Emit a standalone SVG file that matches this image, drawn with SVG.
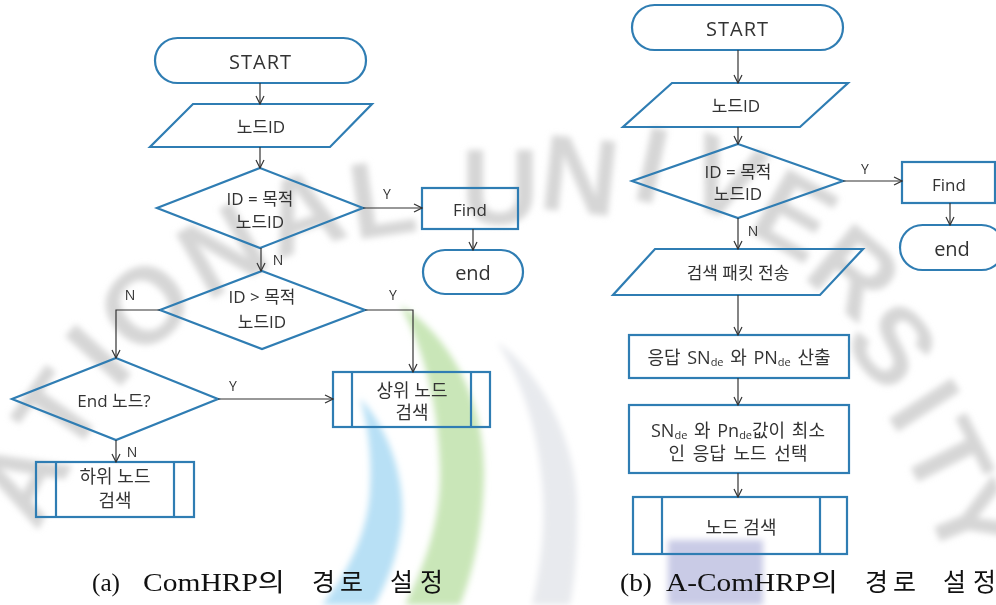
<svg xmlns="http://www.w3.org/2000/svg" width="996" height="605" viewBox="0 0 996 605">
<style>
  .nd { fill: none; stroke: #2f7db3; stroke-width: 2.2; }
  .t { font-family: "Open Sans", "Noto Sans CJK KR", sans-serif; font-size: 17px; fill: #333; text-anchor: middle; dominant-baseline: central; }
  .big { font-size: 20px; }
  .pb { font-size: 18px; }
  .lbl { font-family: "Open Sans", "Noto Sans CJK KR", sans-serif; font-size: 14px; fill: #333; text-anchor: middle; dominant-baseline: central; }
  .sub { font-size: 11px; }
  .conn { fill: none; stroke: #333; stroke-width: 1.2; marker-end: url(#arr); }
  .cap { font-family: "Liberation Serif", "Noto Sans CJK KR", serif; font-size: 25px; fill: #111; }
  .wm { font-family: "Liberation Sans", sans-serif; font-weight: bold; font-size: 108px; fill: #d6d6d6; text-anchor: middle; dominant-baseline: central; }
</style>
<defs>
  <marker id="arr" markerWidth="10" markerHeight="10" refX="9" refY="5" orient="auto" markerUnits="userSpaceOnUse">
    <path d="M1,1 L9,5 L1,9" fill="none" stroke="#333" stroke-width="1.2"/>
  </marker>
  <filter id="soft" x="-10%" y="-10%" width="120%" height="120%">
    <feGaussianBlur stdDeviation="3"/>
  </filter>
</defs>
<rect width="996" height="605" fill="#fff"/>

<!-- background seal -->
<g id="seal" filter="url(#soft)">
  <path d="M497,342 C540,370 575,440 577,500 C578,545 575,580 570,605 L532,605 C540,570 545,535 543,495 C540,440 525,385 497,342 Z" fill="#e8eaee"/>
  <path d="M400,305 C450,335 484,400 484,470 C484,530 472,575 460,605 L405,605 C425,565 441,520 440,470 C439,410 425,350 400,305 Z" fill="#c9e6b8"/>
  <path d="M360,398 C390,430 405,480 402,520 C398,560 385,585 375,605 L322,605 C350,570 368,530 370,490 C372,455 368,425 360,398 Z" fill="#b8e0f5"/>
  <rect x="668" y="540" width="95" height="65" fill="#c9cbe6"/>
  <g class="seal-letters">
    <text class="wm" x="22" y="480" transform="rotate(-62 22 480)">A</text>
    <text class="wm" x="58" y="412" transform="rotate(-55 58 412)">T</text>
    <text class="wm" x="98" y="355" transform="rotate(-48 98 355)">I</text>
    <text class="wm" x="145" y="305" transform="rotate(-42 145 305)">O</text>
    <text class="wm" x="222" y="250" transform="rotate(-30 222 250)">N</text>
    <text class="wm" x="302" y="212" transform="rotate(-18 302 212)">A</text>
    <text class="wm" x="382" y="198" transform="rotate(-8 382 198)">L</text>
    <text class="wm" x="500" y="186">U</text>
    <text class="wm" x="580" y="175" transform="rotate(6 580 175)">N</text>
    <text class="wm" x="652" y="165" transform="rotate(12 652 165)">I</text>
    <text class="wm" x="725" y="178" transform="rotate(20 725 178)">V</text>
    <text class="wm" x="795" y="215" transform="rotate(30 795 215)">E</text>
    <text class="wm" x="855" y="272" transform="rotate(40 855 272)">R</text>
    <text class="wm" x="893" y="345" transform="rotate(50 893 345)">S</text>
    <text class="wm" x="925" y="405" transform="rotate(57 925 405)">I</text>
    <text class="wm" x="948" y="458" transform="rotate(63 948 458)">T</text>
    <text class="wm" x="972" y="520" transform="rotate(68 972 520)">Y</text>
  </g>
</g>

<!-- (a) ComHRP flow -->
<g id="a-start"><rect class="nd" x="155" y="38" width="211" height="45" rx="22.5"/><text class="t big" x="260.5" y="61" letter-spacing="1">START</text></g>
<g id="a-input"><polygon class="nd" points="193,104 372,104 330,147 150,147"/><text class="t" x="261" y="126">노드ID</text></g>
<g id="a-dec1"><polygon class="nd" points="260,168 363,208 260,248 157,208"/><text class="t" x="260" y="198">ID = 목적</text><text class="t" x="260" y="221">노드ID</text></g>
<g id="a-find"><rect class="nd" x="422" y="188" width="96" height="41"/><text class="t" x="470" y="209">Find</text></g>
<g id="a-end"><rect class="nd" x="423" y="250" width="100" height="44" rx="22"/><text class="t big" x="473" y="272">end</text></g>
<g id="a-dec2"><polygon class="nd" points="262,271 365,310 262,349 160,310"/><text class="t" x="262" y="296">ID &gt; 목적</text><text class="t" x="262" y="321">노드ID</text></g>
<g id="a-dec3"><polygon class="nd" points="116,358 218,399 116,440 12,399"/><text class="t" x="114" y="400">End 노드?</text></g>
<g id="a-up"><rect class="nd" x="333" y="372" width="157" height="55"/><line class="nd" x1="352" y1="372" x2="352" y2="427"/><line class="nd" x1="471" y1="372" x2="471" y2="427"/><text class="t pb" x="412" y="390">상위 노드</text><text class="t pb" x="412" y="412">검색</text></g>
<g id="a-down"><rect class="nd" x="36" y="462" width="158" height="55"/><line class="nd" x1="56" y1="462" x2="56" y2="517"/><line class="nd" x1="174" y1="462" x2="174" y2="517"/><text class="t pb" x="115" y="476">하위 노드</text><text class="t pb" x="115" y="500">검색</text></g>

<g id="a-connectors">
  <line class="conn" x1="260" y1="83" x2="260" y2="104"/>
  <line class="conn" x1="260" y1="147" x2="260" y2="168"/>
  <line class="conn" x1="363" y1="208" x2="422" y2="208"/>
  <line class="conn" x1="473" y1="229" x2="473" y2="250"/>
  <line class="conn" x1="261" y1="248" x2="261" y2="271"/>
  <polyline class="conn" points="160,310 116,310 116,358"/>
  <polyline class="conn" points="365,310 413,310 413,372"/>
  <line class="conn" x1="218" y1="399" x2="333" y2="399"/>
  <line class="conn" x1="116" y1="440" x2="116" y2="462"/>
  <text class="lbl" x="387" y="193">Y</text>
  <text class="lbl" x="278" y="259">N</text>
  <text class="lbl" x="130" y="294">N</text>
  <text class="lbl" x="393" y="294">Y</text>
  <text class="lbl" x="233" y="385">Y</text>
  <text class="lbl" x="132" y="451">N</text>
</g>

<!-- (b) A-ComHRP flow -->
<g id="b-start"><rect class="nd" x="632" y="5" width="211" height="45" rx="22.5"/><text class="t big" x="737.5" y="28" letter-spacing="1">START</text></g>
<g id="b-input"><polygon class="nd" points="672,83 848,83 800,127 623,127"/><text class="t" x="736" y="105">노드ID</text></g>
<g id="b-dec"><polygon class="nd" points="738,144 843,181 738,218 632,181"/><text class="t" x="738" y="171">ID = 목적</text><text class="t" x="738" y="193">노드ID</text></g>
<g id="b-find"><rect class="nd" x="902" y="162" width="93" height="41"/><text class="t" x="949" y="184">Find</text></g>
<g id="b-end"><rect class="nd" x="900" y="225" width="104" height="45" rx="22.5"/><text class="t big" x="952" y="248">end</text></g>
<g id="b-send"><polygon class="nd" points="655,249 863,249 820,295 613,295"/><text class="t" x="738" y="272">검색 패킷 전송</text></g>
<g id="b-calc"><rect class="nd" x="629" y="335" width="220" height="43"/><text class="t pb" x="739" y="357" word-spacing="2">응답 SN<tspan class="sub" dy="4">de</tspan><tspan dy="-4"> 와 PN</tspan><tspan class="sub" dy="4">de</tspan><tspan dy="-4"> 산출</tspan></text></g>
<g id="b-select"><rect class="nd" x="629" y="405" width="220" height="68"/><text class="t pb" x="738" y="430" word-spacing="2">SN<tspan class="sub" dy="4">de</tspan><tspan dy="-4"> 와 Pn</tspan><tspan class="sub" dy="4">de</tspan><tspan dy="-4">값이 최소</tspan></text><text class="t pb" x="738" y="453" word-spacing="3">인 응답 노드 선택</text></g>
<g id="b-search"><rect class="nd" x="633" y="497" width="214" height="57"/><line class="nd" x1="662" y1="497" x2="662" y2="554"/><line class="nd" x1="820" y1="497" x2="820" y2="554"/><text class="t pb" x="741" y="527">노드 검색</text></g>

<g id="b-connectors">
  <line class="conn" x1="738" y1="50" x2="738" y2="83"/>
  <line class="conn" x1="738" y1="127" x2="738" y2="144"/>
  <line class="conn" x1="843" y1="181" x2="902" y2="181"/>
  <line class="conn" x1="950" y1="203" x2="950" y2="225"/>
  <line class="conn" x1="738" y1="218" x2="738" y2="249"/>
  <line class="conn" x1="738" y1="295" x2="738" y2="335"/>
  <line class="conn" x1="738" y1="378" x2="738" y2="405"/>
  <line class="conn" x1="738" y1="473" x2="738" y2="497"/>
  <text class="lbl" x="865" y="168">Y</text>
  <text class="lbl" x="753" y="230">N</text>
</g>

<!-- captions -->
<g id="captions">
  <text class="cap" x="92" y="591" textLength="28" lengthAdjust="spacingAndGlyphs">(a)</text>
  <text class="cap" x="143" y="591" textLength="142" lengthAdjust="spacingAndGlyphs">ComHRP의</text>
  <text class="cap" x="312" y="591" textLength="51">경로</text>
  <text class="cap" x="390" y="591" textLength="53">설정</text>
  <text class="cap" x="620" y="591" textLength="32" lengthAdjust="spacingAndGlyphs">(b)</text>
  <text class="cap" x="666" y="591" textLength="172" lengthAdjust="spacingAndGlyphs">A-ComHRP의</text>
  <text class="cap" x="865" y="591" textLength="51">경로</text>
  <text class="cap" x="943" y="591" textLength="53">설정</text>
</g>
</svg>
